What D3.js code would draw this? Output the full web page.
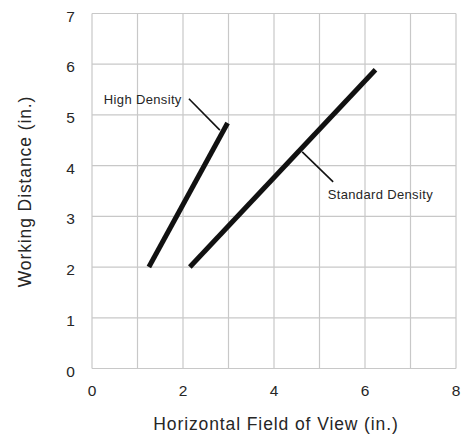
<!DOCTYPE html>
<html>
<head>
<meta charset="utf-8">
<script src="https://cdn.jsdelivr.net/npm/d3@7"></script>
<style>
  body { margin: 0; background: #fff; }
  text { font-family: "Liberation Sans", Arial, sans-serif; fill: #262626; }
</style>
</head>
<body>
<svg id="chart"></svg>
<script>
// values
const xTicks = [0, 2, 4, 6, 8];
const yTicks = [0, 1, 2, 3, 4, 5, 6, 7];
const highDensity = [{x: 1.25, y: 2.0}, {x: 2.98, y: 4.84}];
const standardDensity = [{x: 2.15, y: 2.0}, {x: 6.23, y: 5.89}];
const labels = [
  {text: "High Density", x: 0.26, y: 5.30, from: [2.13, 5.32], to: [2.81, 4.70]},
  {text: "Standard Density", x: 5.18, y: 3.43, from: [5.30, 3.68], to: [4.62, 4.27]}
];

let layout = {"width": 468, "height": 435,
              "marginTop": 13.5, "marginRight": 12,
              "marginBottom": 66.5, "marginLeft": 92};

const svg = d3.select("#chart")
  .attr("width", layout.width)
  .attr("height", layout.height);

let xScale = d3.scaleLinear()
  .domain([0, 8])
  .range([layout.marginLeft, layout.width - layout.marginRight]);

let yScale = d3.scaleLinear()
  .domain([0, 7])
  .range([layout.height - layout.marginBottom, layout.marginTop]);

// grid, one line per unit
const grid = svg.append("g").attr("stroke", "#c8c8c8").attr("stroke-width", 1.2);
grid.selectAll(".vgrid")
  .data(d3.range(0, 9))
  .join("line")
  .attr("x1", d => xScale(d)).attr("x2", d => xScale(d))
  .attr("y1", yScale(0)).attr("y2", yScale(7));
grid.selectAll(".hgrid")
  .data(yTicks)
  .join("line")
  .attr("x1", xScale(0)).attr("x2", xScale(8))
  .attr("y1", d => yScale(d)).attr("y2", d => yScale(d));

// tick labels
svg.append("g").selectAll("text")
  .data(xTicks)
  .join("text")
  .attr("x", d => xScale(d))
  .attr("y", yScale(0) + 27.5)
  .attr("text-anchor", "middle")
  .attr("font-size", 15.5)
  .text(d => d);

svg.append("g").selectAll("text")
  .data(yTicks)
  .join("text")
  .attr("x", 70.5)
  .attr("y", d => yScale(d) + 8)
  .attr("text-anchor", "middle")
  .attr("font-size", 15.5)
  .text(d => d);

// axis titles
svg.append("text")
  .attr("x", 276)
  .attr("y", 429.5)
  .attr("text-anchor", "middle")
  .attr("font-size", 17.5)
  .attr("letter-spacing", 0.9)
  .text("Horizontal Field of View (in.)");

svg.append("text")
  .attr("transform", "translate(30.5, 191.5) rotate(-90)")
  .attr("text-anchor", "middle")
  .attr("font-size", 17.5)
  .attr("letter-spacing", 0.9)
  .text("Working Distance (in.)");

// the two series
const line = d3.line().x(d => xScale(d.x)).y(d => yScale(d.y));
svg.append("g").selectAll("path")
  .data([highDensity, standardDensity])
  .join("path")
  .attr("d", line)
  .attr("fill", "none")
  .attr("stroke", "#111")
  .attr("stroke-width", 5);

// labels with leader lines
svg.append("g").selectAll("line")
  .data(labels)
  .join("line")
  .attr("x1", d => xScale(d.from[0])).attr("y1", d => yScale(d.from[1]))
  .attr("x2", d => xScale(d.to[0])).attr("y2", d => yScale(d.to[1]))
  .attr("stroke", "#111")
  .attr("stroke-width", 1.6);

svg.append("g").selectAll("text")
  .data(labels)
  .join("text")
  .attr("x", d => xScale(d.x))
  .attr("y", d => yScale(d.y) + 4)
  .attr("font-size", 13)
  .attr("letter-spacing", 0.35)
  .text(d => d.text);
</script>
</body>
</html>
